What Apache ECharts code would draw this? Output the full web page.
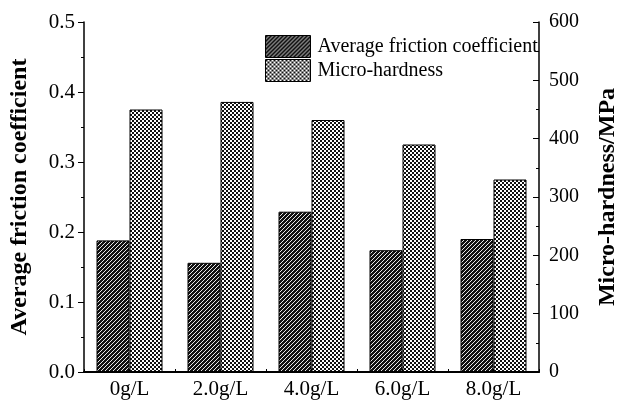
<!DOCTYPE html>
<html>
<head>
    <meta charset="UTF-8">
    <title>Friction / hardness</title>
    <script src="https://cdn.jsdelivr.net/npm/echarts@6/dist/echarts.min.js"></script>
    <style>
        body { margin: 0; background: #fff; }
        #main { width: 628px; height: 401px; }
    </style>
</head>
<body>
<div id="main"></div>
<script>
    // data
    var categories = ['0g/L', '2.0g/L', '4.0g/L', '6.0g/L', '8.0g/L'];
    var friction = [0.188, 0.156, 0.229, 0.174, 0.190];
    var hardness = [450, 463, 432, 390, 330];
    var seriesNames = ['Average friction coefficient', 'Micro-hardness'];

    var font = 'Liberation Serif';

    // hatch fill: dark with thin white "/" lines
    function stripePattern() {
        var s = 4;
        var c = document.createElement('canvas');
        c.width = s; c.height = s;
        var ctx = c.getContext('2d');
        ctx.fillStyle = '#111';
        ctx.fillRect(0, 0, s, s);
        ctx.strokeStyle = '#e8e8e8';
        ctx.lineWidth = 1;
        ctx.beginPath();
        ctx.moveTo(0, s); ctx.lineTo(s, 0);
        ctx.moveTo(-1, 1); ctx.lineTo(1, -1);
        ctx.moveTo(s - 1, s + 1); ctx.lineTo(s + 1, s - 1);
        ctx.stroke();
        return c;
    }

    // cross-hatch fill: small checker
    function checkerPattern() {
        var c = document.createElement('canvas');
        c.width = 4; c.height = 4;
        var ctx = c.getContext('2d');
        ctx.fillStyle = '#fff';
        ctx.fillRect(0, 0, 4, 4);
        ctx.fillStyle = '#111';
        ctx.fillRect(0, 0, 2, 2);
        ctx.fillRect(2, 2, 2, 2);
        return c;
    }

    var myChart = echarts.init(document.getElementById('main'));

    var option = {
        animation: false,
        textStyle: { fontFamily: font, color: '#000' },
        grid: { left: 83, right: 81, top: 22, bottom: 29 },
        legend: {
            orient: 'vertical',
            left: 265,
            top: 35,
            padding: 0,
            itemGap: 1,
            itemWidth: 45,
            itemHeight: 22,
            icon: 'rect',
            itemStyle: { borderColor: '#000', borderWidth: 1 },
            textStyle: { fontFamily: font, fontSize: 20, color: '#000', padding: [0, 0, 0, 2] },
            data: seriesNames
        },
        xAxis: [
            {
                type: 'category',
                data: categories,
                axisLine: { lineStyle: { color: '#000', width: 2 } },
                axisTick: { show: false },
                axisLabel: { fontFamily: font, fontSize: 21, color: '#000', margin: 7 }
            },
            {
                type: 'value',
                position: 'top',
                min: 0, max: 10, interval: 1,
                axisLine: { show: true, lineStyle: { color: '#000', width: 1.5 } },
                axisTick: { show: true, length: 3, lineStyle: { color: '#000' } },
                axisLabel: { show: false },
                splitLine: { show: false }
            }
        ],
        yAxis: [
            {
                type: 'value',
                min: 0, max: 0.5, interval: 0.1,
                name: 'Average friction coefficient',
                nameLocation: 'middle',
                nameGap: 52,
                nameRotate: 90,
                nameTextStyle: { fontFamily: font, fontSize: 24, fontWeight: 'bold', color: '#000' },
                axisLine: { show: true, lineStyle: { color: '#000', width: 1.5 } },
                axisTick: { show: true, length: 6, lineStyle: { color: '#000' } },
                minorTick: { show: true, splitNumber: 2, length: 3, lineStyle: { color: '#000' } },
                axisLabel: {
                    fontFamily: font, fontSize: 21, color: '#000', margin: 9,
                    formatter: function (v) { return v.toFixed(1); }
                },
                splitLine: { show: false }
            },
            {
                type: 'value',
                min: 0, max: 600, interval: 100,
                position: 'right',
                name: 'Micro-hardness/MPa',
                nameLocation: 'middle',
                nameGap: 57,
                nameRotate: 90,
                nameTextStyle: { fontFamily: font, fontSize: 24, fontWeight: 'bold', color: '#000' },
                axisLine: { show: true, lineStyle: { color: '#000', width: 1.5 } },
                axisTick: { show: true, inside: true, length: 6, lineStyle: { color: '#000' } },
                minorTick: { show: true, splitNumber: 2, length: 3, lineStyle: { color: '#000' } },
                axisLabel: { fontFamily: font, fontSize: 20, color: '#000', margin: 10 },
                splitLine: { show: false }
            }
        ],
        series: [
            {
                name: seriesNames[0],
                type: 'bar',
                yAxisIndex: 0,
                barWidth: 33,
                barGap: '0%',
                itemStyle: {
                    color: { image: stripePattern(), repeat: 'repeat' },
                    borderColor: '#000',
                    borderWidth: 1
                },
                data: friction
            },
            {
                name: seriesNames[1],
                type: 'bar',
                yAxisIndex: 1,
                barWidth: 33,
                barGap: '0%',
                itemStyle: {
                    color: { image: checkerPattern(), repeat: 'repeat' },
                    borderColor: '#000',
                    borderWidth: 1
                },
                data: hardness
            }
        ]
    };

    myChart.setOption(option);
</script>
</body>
</html>
